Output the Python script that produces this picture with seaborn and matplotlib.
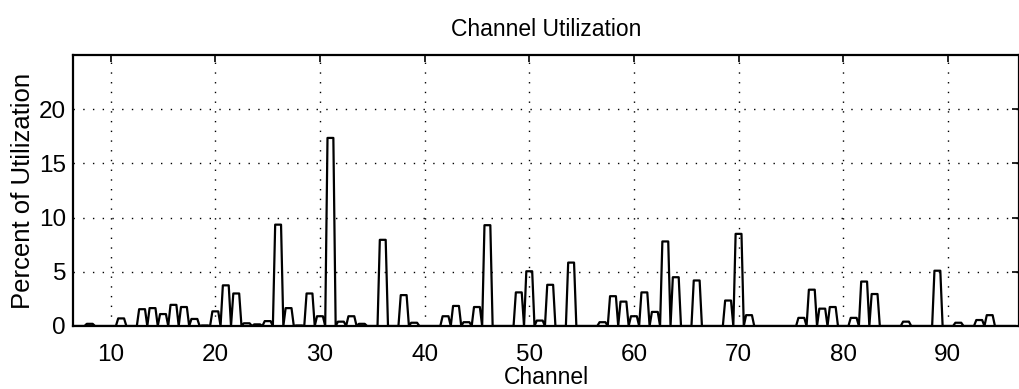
import numpy as np
import pandas as pd
import matplotlib
matplotlib.use("Agg")
import matplotlib.pyplot as plt
import seaborn as sns

# ---- data ----
channels = list(range(7, 97))
utilization = [
    0.0, 0.2, 0.0, 0.0, 0.7, 0.0, 1.55, 1.65, 1.1, 1.95,      # 7-16
    1.75, 0.65, 0.05, 1.35, 3.75, 3.0, 0.25, 0.15, 0.45, 9.35,  # 17-26
    1.65, 0.05, 3.0, 0.9, 17.35, 0.4, 0.9, 0.2, 0.0, 7.95,     # 27-36
    0.0, 2.85, 0.3, 0.0, 0.0, 0.9, 1.85, 0.35, 1.75, 9.3,      # 37-46
    0.0, 0.0, 3.1, 5.05, 0.5, 3.8, 0.0, 5.85, 0.0, 0.0,        # 47-56
    0.35, 2.75, 2.25, 0.9, 3.1, 1.3, 7.8, 4.5, 0.0, 4.2,       # 57-66
    0.0, 0.0, 2.35, 8.5, 1.0, 0.0, 0.0, 0.0, 0.0, 0.75,        # 67-76
    3.35, 1.6, 1.75, 0.0, 0.75, 4.1, 2.95, 0.0, 0.0, 0.4,      # 77-86
    0.0, 0.0, 5.1, 0.0, 0.3, 0.0, 0.55, 1.0, 0.0, 0.0,         # 87-96
]
x_ticks = [10, 20, 30, 40, 50, 60, 70, 80, 90]
y_ticks = [0, 5, 10, 15, 20]
title = "Channel Utilization"
x_label = "Channel"
y_label = "Percent of Utilization"

sns.set_theme(style="white")
plt.rcParams["font.family"] = ["Liberation Sans", "DejaVu Sans"]

# outline of each bar as a trapezoid, chained into one polyline
bottom_half, top_half = 0.5, 0.28
xs, ys = [], []
for c, v in zip(channels, utilization):
    xs += [c - bottom_half, c - top_half, c + top_half, c + bottom_half]
    ys += [0.0, v, v, 0.0]
outline = pd.DataFrame({"x": xs, "y": ys, "order": np.arange(len(xs))})

fig = plt.figure(figsize=(10.2, 3.89), dpi=100)
ax = fig.add_axes([73 / 1020, 63 / 389, 946 / 1020, 271 / 389])

sns.lineplot(data=outline, x="x", y="y", sort=False, estimator=None,
             color="black", linewidth=1.6, ax=ax)

ax.set_xlim(6.4, 96.8)
ax.set_ylim(0, 25)
ax.set_xticks(x_ticks)
ax.set_yticks(y_ticks)
ax.tick_params(direction="in", length=5, width=1.2, top=True, right=True,
               labelsize=17.5, colors="black")
ax.tick_params(axis="x", pad=13)
ax.tick_params(axis="y", pad=5)
ax.grid(True, color="black", linestyle=(0, (1, 6)), linewidth=1.0)
for s in ax.spines.values():
    s.set_visible(True)
    s.set_color("black")
    s.set_linewidth(1.6)

ax.set_xlabel(x_label, fontsize=16.5, color="black", labelpad=0)
ax.set_ylabel(y_label, fontsize=18.5, color="black", labelpad=3)
ax.set_title(title, fontsize=16.5, color="black", pad=14)
ax.set_facecolor("white")
fig.patch.set_facecolor("white")

fig.savefig("out.png", dpi=100, facecolor="white")
